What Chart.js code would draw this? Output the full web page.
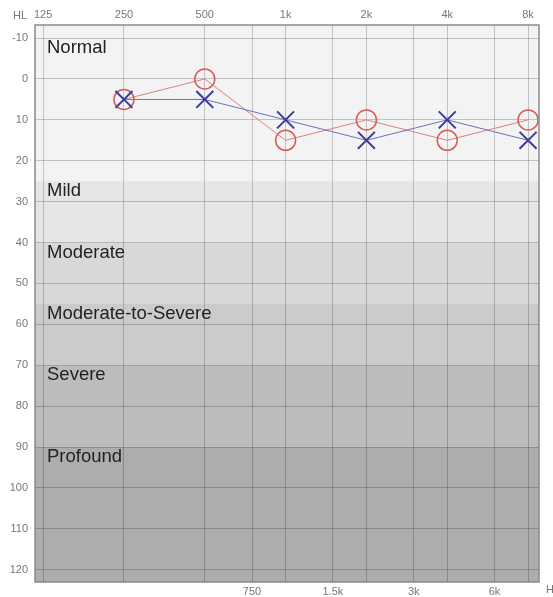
<!DOCTYPE html>
<html lang="en">
<head>
<meta charset="UTF-8">
<script src="https://cdn.jsdelivr.net/npm/chart.js"></script>
<title>Audiogram</title>
<style>
  body { margin: 0; background: #fff; }
  .chart-container { width: 553px; height: 597px; position: relative; }
</style>
</head>
<body>
<div class="chart-container">
    <canvas id="myChart"></canvas>
</div>
<script>
// frequencies tested (Hz) and thresholds (dB HL)
const frequencies = [250, 500, 1000, 2000, 4000, 8000];
const rightEar = [5, 0, 15, 10, 15, 10];   // red circles
const leftEar = [5, 5, 10, 15, 10, 15];    // blue crosses

// axis ticks
const topTicks = [125, 250, 500, 1000, 2000, 4000, 8000];
const topLabels = ['125', '250', '500', '1k', '2k', '4k', '8k'];
const bottomTicks = [750, 1500, 3000, 6000];
const bottomLabels = ['750', '1.5k', '3k', '6k'];
const dbTicks = [-10, 0, 10, 20, 30, 40, 50, 60, 70, 80, 90, 100, 110, 120];

// hearing loss bands
const bandNames = ['Normal', 'Mild', 'Moderate', 'Moderate-to-Severe', 'Severe', 'Profound'];
const bandStarts = [-10, 25, 40, 55, 70, 90];
const bandColors = ['#f3f3f3', '#e5e5e5', '#d8d8d8', '#cbcbcb', '#bcbcbc', '#adadad'];

const tickFont = { family: 'Liberation Sans', size: 11 };
const tickColor = '#777';
const gridColor = 'rgba(0, 0, 0, 0.2)';

const bandsPlugin = {
    id: 'bands',
    beforeDraw(chart) {
        const ctx = chart.ctx;
        const y = chart.scales.y;
        const area = chart.chartArea;
        ctx.save();
        bandStarts.forEach((start, i) => {
            const top = i === 0 ? area.top : y.getPixelForValue(start);
            const bottom = i === bandStarts.length - 1 ? area.bottom : y.getPixelForValue(bandStarts[i + 1]);
            ctx.fillStyle = bandColors[i];
            ctx.fillRect(area.left, top, area.right - area.left, bottom - top);
        });
        ctx.restore();
    },
    beforeDatasetsDraw(chart) {
        // band names go over the grid but under the markers
        const ctx = chart.ctx;
        const y = chart.scales.y;
        const area = chart.chartArea;
        ctx.save();
        ctx.fillStyle = '#222';
        ctx.font = '18.5px "Liberation Sans"';
        ctx.textBaseline = 'middle';
        ctx.textAlign = 'left';
        bandNames.forEach((name, i) => {
            ctx.fillText(name, area.left + 12, y.getPixelForValue(bandStarts[i]) + 10);
        });
        ctx.restore();
    },
    afterDraw(chart) {
        const ctx = chart.ctx;
        const area = chart.chartArea;
        ctx.save();
        ctx.strokeStyle = '#8a8a8a';
        ctx.lineWidth = 1.5;
        ctx.strokeRect(area.left, area.top, area.right - area.left, area.bottom - area.top);
        ctx.fillStyle = tickColor;
        ctx.font = '11px "Liberation Sans"';
        ctx.textBaseline = 'middle';
        ctx.textAlign = 'center';
        ctx.fillText('HL', 20, 16);
        ctx.textAlign = 'left';
        ctx.fillText('Hz', area.right + 7, 590);
        ctx.restore();
    }
};

function setTicks(values) {
    return scale => { scale.ticks = values.map(v => ({ value: v })); };
}

const ctx = document.getElementById('myChart').getContext('2d');
const chart = new Chart(ctx, {
    type: 'scatter',
    data: {
        datasets: [
            {
                label: 'Right',
                data: frequencies.map((f, i) => ({ x: f, y: rightEar[i] })),
                showLine: true,
                borderColor: '#e08080',
                borderWidth: 1,
                pointStyle: 'circle',
                pointRadius: 10,
                pointBorderWidth: 1.5,
                pointBorderColor: '#d65a55',
                pointBackgroundColor: 'rgba(255, 255, 255, 0)',
                order: 1
            },
            {
                label: 'Left',
                data: frequencies.map((f, i) => ({ x: f, y: leftEar[i] })),
                showLine: true,
                borderColor: '#6f6fbf',
                borderWidth: 1,
                pointStyle: 'crossRot',
                pointRadius: 12,
                pointBorderWidth: 2,
                pointBorderColor: '#3b3b9e',
                order: 0
            }
        ]
    },
    options: {
        responsive: true,
        maintainAspectRatio: false,
        animation: false,
        layout: { padding: { right: 13 } },
        plugins: {
            legend: { display: false },
            tooltip: { enabled: false }
        },
        scales: {
            x: {
                type: 'logarithmic',
                position: 'top',
                min: 116.6,
                max: 8787,
                afterBuildTicks: setTicks(topTicks),
                afterFit: scale => { scale.height = 25; },
                grid: { color: gridColor, drawTicks: false },
                border: { display: false },
                ticks: {
                    autoSkip: false,
                    maxRotation: 0,
                    padding: 3,
                    font: tickFont,
                    color: tickColor,
                    callback: v => topLabels[topTicks.indexOf(v)]
                }
            },
            x2: {
                type: 'logarithmic',
                position: 'bottom',
                min: 116.6,
                max: 8787,
                afterBuildTicks: setTicks(bottomTicks),
                afterFit: scale => { scale.height = 15; },
                grid: { color: gridColor, drawTicks: false },
                border: { display: false },
                ticks: {
                    autoSkip: false,
                    maxRotation: 0,
                    padding: 3,
                    font: tickFont,
                    color: tickColor,
                    callback: v => bottomLabels[bottomTicks.indexOf(v)]
                }
            },
            y: {
                reverse: true,
                min: -13.2,
                max: 123,
                afterBuildTicks: setTicks(dbTicks),
                afterFit: scale => { scale.width = 35; },
                grid: { color: gridColor, drawTicks: false },
                border: { display: false },
                ticks: {
                    padding: 7,
                    font: tickFont,
                    color: tickColor
                }
            }
        }
    },
    plugins: [bandsPlugin]
});
</script>
</body>
</html>
